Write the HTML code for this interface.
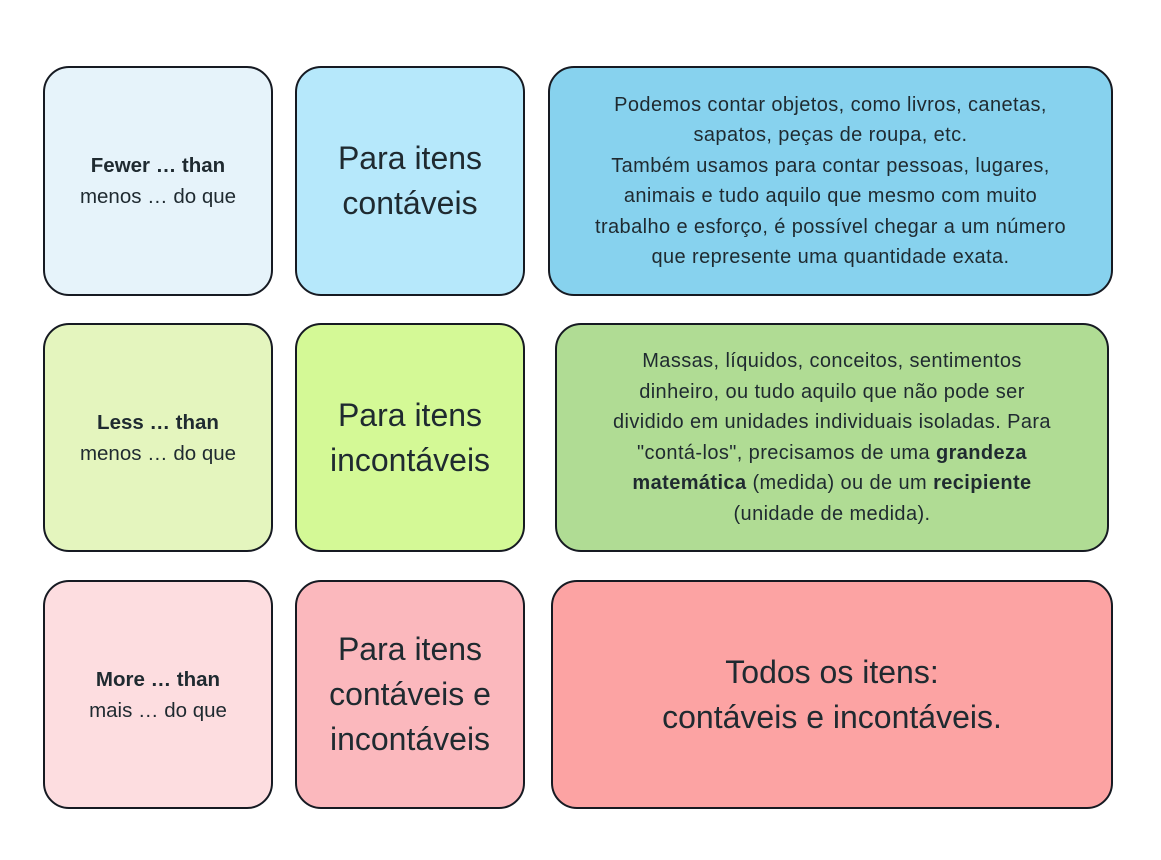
<!DOCTYPE html>
<html><head><meta charset="utf-8"><style>
body{margin:0;width:1161px;height:860px;background:#fff;position:relative;font-family:"Liberation Sans",sans-serif;color:#1f2a30;overflow:hidden}
.b{position:absolute;box-sizing:border-box;border:2px solid #161a22;border-radius:26px;display:flex;align-items:center;justify-content:center;text-align:center;white-space:nowrap}
.s{font-size:20.5px;line-height:31px}
.m{font-size:32px;line-height:45px}
.d{font-size:20px;letter-spacing:0.4px;line-height:30.5px}
</style></head><body>
<div class="b s" style="left:43px;top:66px;width:230px;height:230px;background:#e6f3fa"><div><b>Fewer … than</b><br>menos … do que</div></div>
<div class="b m" style="left:295px;top:66px;width:230px;height:230px;background:#b6e8fb"><div>Para itens<br>contáveis</div></div>
<div class="b d" style="left:548px;top:66px;width:565px;height:230px;background:#87d2ee"><div>Podemos contar objetos, como livros, canetas,<br>sapatos, peças de roupa, etc.<br>Também usamos para contar pessoas, lugares,<br>animais e tudo aquilo que mesmo com muito<br>trabalho e esforço, é possível chegar a um número<br>que represente uma quantidade exata.</div></div>

<div class="b s" style="left:43px;top:323px;width:230px;height:229px;background:#e4f5be"><div><b>Less … than</b><br>menos … do que</div></div>
<div class="b m" style="left:295px;top:323px;width:230px;height:229px;background:#d4f996"><div>Para itens<br>incontáveis</div></div>
<div class="b d" style="left:555px;top:323px;width:554px;height:229px;background:#b0dc94"><div>Massas, líquidos, conceitos, sentimentos<br>dinheiro, ou tudo aquilo que não pode ser<br>dividido em unidades individuais isoladas. Para<br>"contá-los", precisamos de uma <b>grandeza</b><br><b>matemática</b> (medida) ou de um <b>recipiente</b><br>(unidade de medida).</div></div>

<div class="b s" style="left:43px;top:580px;width:230px;height:229px;background:#fddde0"><div><b>More … than</b><br>mais … do que</div></div>
<div class="b m" style="left:295px;top:580px;width:230px;height:229px;background:#fbb8bd"><div>Para itens<br>contáveis e<br>incontáveis</div></div>
<div class="b m" style="left:551px;top:580px;width:562px;height:229px;background:#fca3a3"><div>Todos os itens:<br>contáveis e incontáveis.</div></div>
</body></html>
